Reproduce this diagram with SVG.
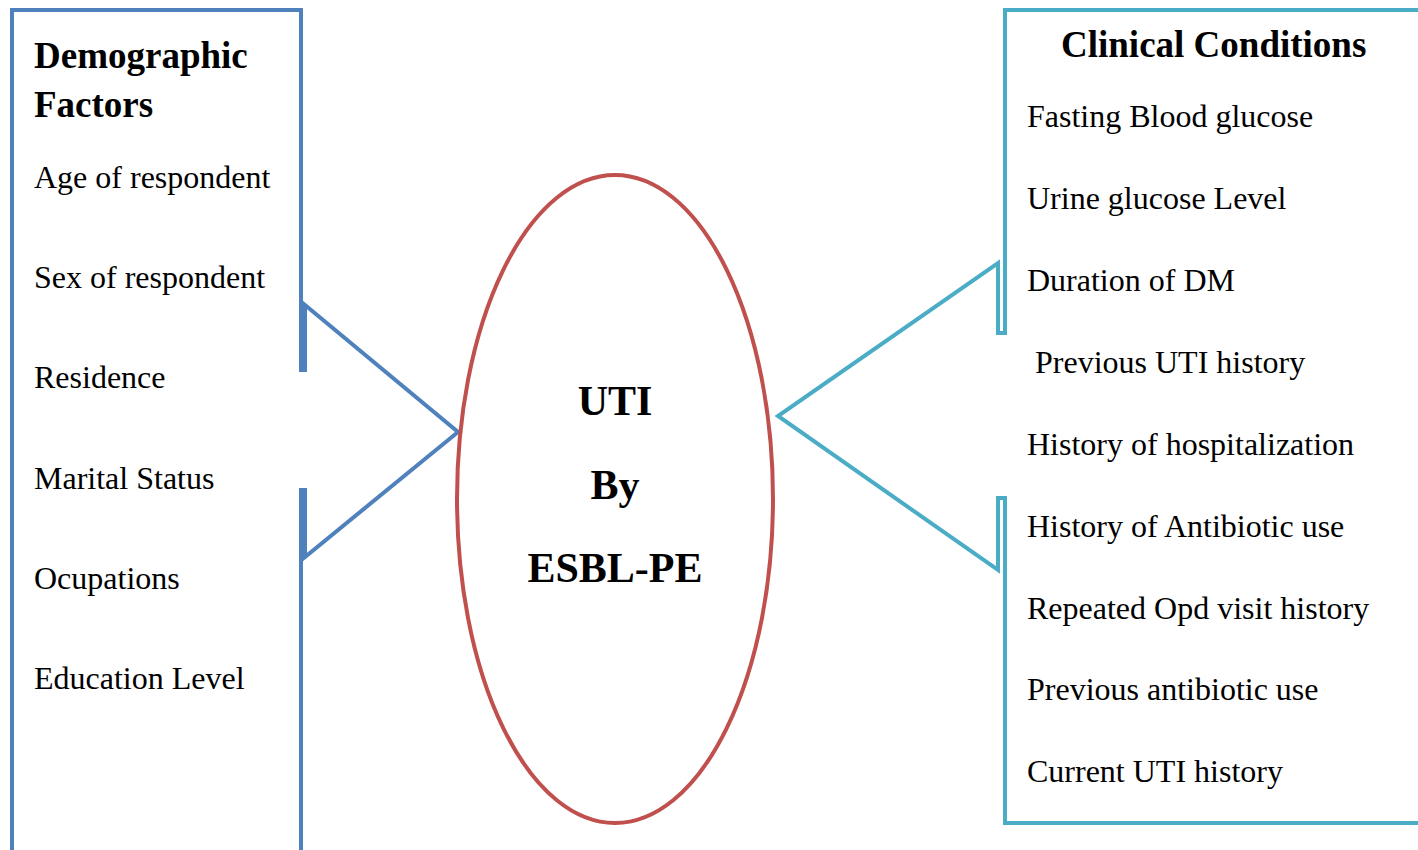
<svg xmlns="http://www.w3.org/2000/svg" width="1418" height="850" viewBox="0 0 1418 850">
<style>
.t{font-family:"Liberation Serif","Times New Roman",serif;font-size:32px;fill:#000}
.h{font-family:"Liberation Serif","Times New Roman",serif;font-size:37px;font-weight:bold;fill:#000}
.c{font-family:"Liberation Serif","Times New Roman",serif;font-size:42px;font-weight:bold;fill:#000;text-anchor:middle}
.box{fill:none;stroke-width:4;stroke-linejoin:miter}
</style>
<rect width="1418" height="850" fill="#fff"/>
<g id="connectors">
</g>
<g id="demographic">
<path class="box" stroke="#4F81BD" d="M12,852 V10 H301 V370 H305 V305 L458,432 L305,557 V490 H301 V852"/>
<text class="h" x="34" y="68">Demographic</text>
<text class="h" x="34" y="117">Factors</text>
<text class="t" x="34" y="188">Age of respondent</text>
<text class="t" x="34" y="288">Sex of respondent</text>
<text class="t" x="34" y="388">Residence</text>
<text class="t" x="34" y="489">Marital Status</text>
<text class="t" x="34" y="589">Ocupations</text>
<text class="t" x="34" y="689">Education Level</text>
</g>
<g id="uti">
<ellipse cx="615" cy="499" rx="158" ry="324" fill="none" stroke="#C0504D" stroke-width="4"/>
<text class="c" x="615" y="415">UTI</text>
<text class="c" x="615" y="499">By</text>
<text class="c" x="615" y="582">ESBL-PE</text>
</g>
<g id="clinical">
<path class="box" stroke="#4BACC6" d="M1420,10 H1005 V333 H998 V263 L778,416 L998,570 V498 H1005 V823 H1420"/>
<text class="h" x="1061" y="57">Clinical Conditions</text>
<text class="t" x="1027" y="127">Fasting Blood glucose</text>
<text class="t" x="1027" y="209">Urine glucose Level</text>
<text class="t" x="1027" y="291">Duration of DM</text>
<text class="t" x="1027" y="373" xml:space="preserve"> Previous UTI history</text>
<text class="t" x="1027" y="455">History of hospitalization</text>
<text class="t" x="1027" y="537">History of Antibiotic use</text>
<text class="t" x="1027" y="619">Repeated Opd visit history</text>
<text class="t" x="1027" y="700">Previous antibiotic use</text>
<text class="t" x="1027" y="782">Current UTI history</text>
</g>
</svg>
